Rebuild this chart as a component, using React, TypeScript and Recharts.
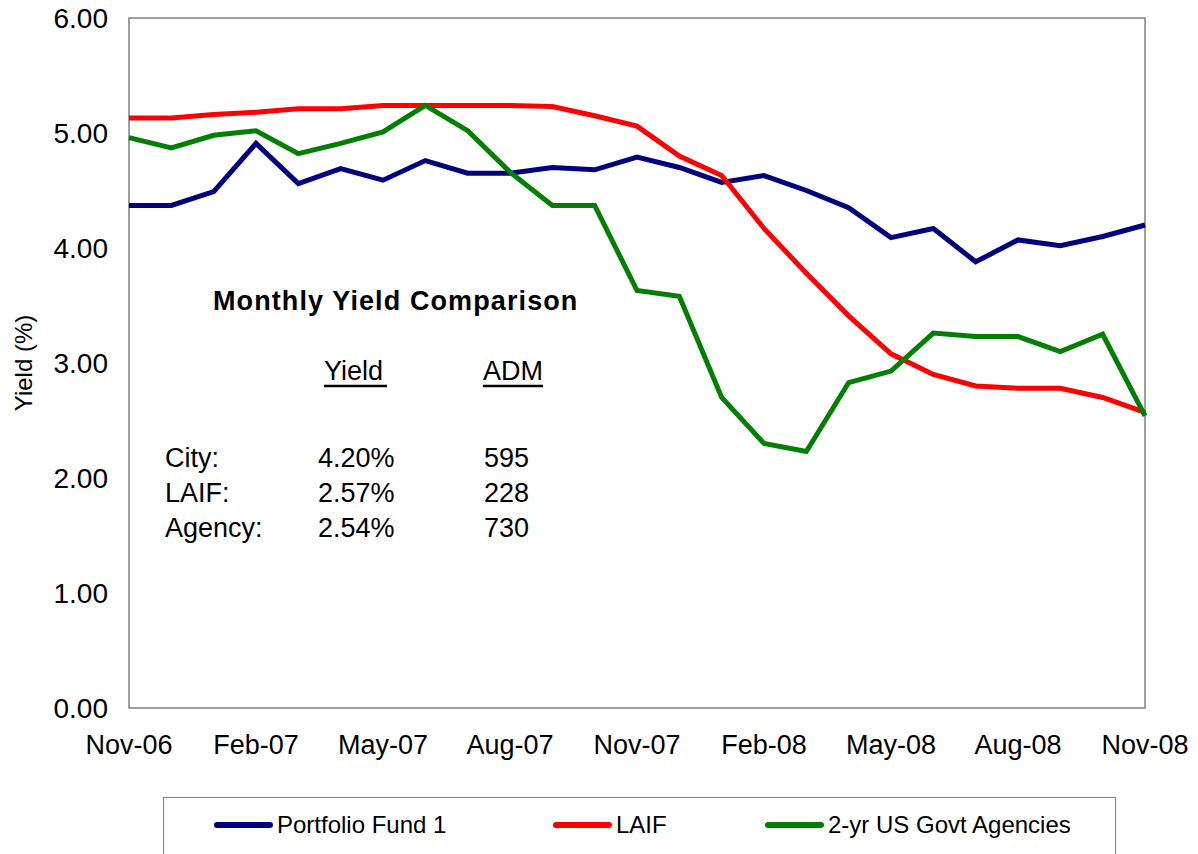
import React from 'react';
import {
  LineChart,
  Line,
  XAxis,
  YAxis,
  Legend,
  ReferenceArea,
} from 'recharts';

const months = [
  'Nov-06', 'Dec-06', 'Jan-07', 'Feb-07', 'Mar-07', 'Apr-07', 'May-07', 'Jun-07', 'Jul-07',
  'Aug-07', 'Sep-07', 'Oct-07', 'Nov-07', 'Dec-07', 'Jan-08', 'Feb-08', 'Mar-08', 'Apr-08',
  'May-08', 'Jun-08', 'Jul-08', 'Aug-08', 'Sep-08', 'Oct-08', 'Nov-08',
];

const portfolioFund = [
  4.37, 4.37, 4.49, 4.91, 4.56, 4.69, 4.59, 4.76, 4.65, 4.65, 4.70, 4.68, 4.79,
  4.70, 4.57, 4.63, 4.50, 4.35, 4.09, 4.17, 3.88, 4.07, 4.02, 4.10, 4.20,
];

const laif = [
  5.13, 5.13, 5.16, 5.18, 5.21, 5.21, 5.24, 5.24, 5.24, 5.24, 5.23, 5.15, 5.06,
  4.80, 4.63, 4.17, 3.78, 3.41, 3.08, 2.90, 2.80, 2.78, 2.78, 2.70, 2.57,
];

const govtAgencies = [
  4.96, 4.87, 4.98, 5.02, 4.82, 4.91, 5.01, 5.24, 5.02, 4.66, 4.37, 4.37, 3.63,
  3.58, 2.70, 2.30, 2.23, 2.83, 2.93, 3.26, 3.23, 3.23, 3.10, 3.25, 2.54,
];

const seriesNames = ['Portfolio Fund 1', 'LAIF', '2-yr US Govt Agencies'];

const yTicks = [0, 1, 2, 3, 4, 5, 6];

// side table in the plot
const summaryNames = ['City:', 'LAIF:', 'Agency:'];
const summaryYields = ['4.20%', '2.57%', '2.54%'];
const summaryAdm = ['595', '228', '730'];

const FONT = '"Liberation Sans", Arial, sans-serif';

const data = months.map((m, i) => ({
  month: m,
  fund: portfolioFund[i],
  laif: laif[i],
  agency: govtAgencies[i],
}));

const XTick = ({ x, y, payload }: any) => (
  <text x={x} y={y + 46} textAnchor="middle" fontSize={27} fontFamily={FONT} fill="#000">
    {payload.value}
  </text>
);

const YTick = ({ x, y, payload }: any) => (
  <text x={x} y={y} dy="0.36em" textAnchor="end" fontSize={28} fontFamily={FONT} fill="#000">
    {Number(payload.value).toFixed(2)}
  </text>
);

const legendOffsets = [50, 389, 601];

const renderLegend = ({ payload }: any) => {
  const items = [...(payload || [])].sort(
    (a: any, b: any) => seriesNames.indexOf(a.value) - seriesNames.indexOf(b.value),
  );
  return (
    <div
      style={{
        position: 'relative',
        width: 953,
        height: 57,
        borderTop: '1px solid #808080',
        borderLeft: '1px solid #808080',
        borderRight: '1px solid #808080',
        boxSizing: 'border-box',
        fontFamily: FONT,
      }}
    >
      {items.map((p: any, i: number) => (
        <div
          key={p.value}
          style={{
            position: 'absolute',
            left: legendOffsets[i],
            top: 27,
            display: 'flex',
            alignItems: 'center',
            transform: 'translateY(-50%)',
            whiteSpace: 'nowrap',
          }}
        >
          <span
            style={{
              display: 'inline-block',
              width: 59,
              height: 6,
              borderRadius: 3,
              background: p.color,
              marginRight: 4,
            }}
          />
          <span style={{ fontSize: 24, color: '#000' }}>{p.value}</span>
        </div>
      ))}
    </div>
  );
};

export default function App() {
  return (
    <LineChart
      width={1190}
      height={846}
      data={data}
      margin={{ top: 10, right: 53, left: 0, bottom: 0 }}
    >
      <ReferenceArea
        x1="Nov-06"
        x2="Nov-08"
        y1={0}
        y2={6}
        fill="none"
        stroke="#808080"
        strokeWidth={1.5}
        ifOverflow="visible"
      />
      <XAxis
        dataKey="month"
        interval={2}
        axisLine={false}
        tickLine={false}
        tickSize={0}
        tickMargin={0}
        height={89}
        tick={<XTick />}
      />
      <YAxis
        domain={[0, 6]}
        ticks={yTicks}
        width={121}
        axisLine={false}
        tickLine={false}
        tickSize={0}
        tickMargin={21}
        tick={<YTick />}
      />
      <Legend
        verticalAlign="bottom"
        content={renderLegend}
        wrapperStyle={{ left: 155, width: 953, height: 57 }}
      />
      <Line
        type="linear"
        dataKey="fund"
        name={seriesNames[0]}
        stroke="#000080"
        strokeWidth={5}
        dot={false}
        isAnimationActive={false}
      />
      <Line
        type="linear"
        dataKey="laif"
        name={seriesNames[1]}
        stroke="#FF0000"
        strokeWidth={5}
        dot={false}
        isAnimationActive={false}
      />
      <Line
        type="linear"
        dataKey="agency"
        name={seriesNames[2]}
        stroke="#008000"
        strokeWidth={5}
        dot={false}
        isAnimationActive={false}
      />
      <text
        x={15}
        y={355}
        transform="rotate(-90 15 355)"
        textAnchor="middle"
        dominantBaseline="central"
        fontSize={24}
        fontFamily={FONT}
        fill="#000"
      >
        Yield (%)
      </text>
      <g fontFamily={FONT} fill="#000">
        <text x={205} y={302} fontSize={27} fontWeight="bold" letterSpacing={1.1}>
          Monthly Yield Comparison
        </text>
        <text x={316} y={372} fontSize={27}>Yield</text>
        <line x1={316} x2={379} y1={378} y2={378} stroke="#000" strokeWidth={2.5} />
        <text x={475} y={372} fontSize={27}>ADM</text>
        <line x1={475} x2={535} y1={378} y2={378} stroke="#000" strokeWidth={2.5} />
        {summaryNames.map((n, i) => (
          <g key={n}>
            <text x={157} y={459 + i * 35} fontSize={27}>{n}</text>
            <text x={310} y={459 + i * 35} fontSize={27}>{summaryYields[i]}</text>
            <text x={476} y={459 + i * 35} fontSize={27}>{summaryAdm[i]}</text>
          </g>
        ))}
      </g>
    </LineChart>
  );
}
